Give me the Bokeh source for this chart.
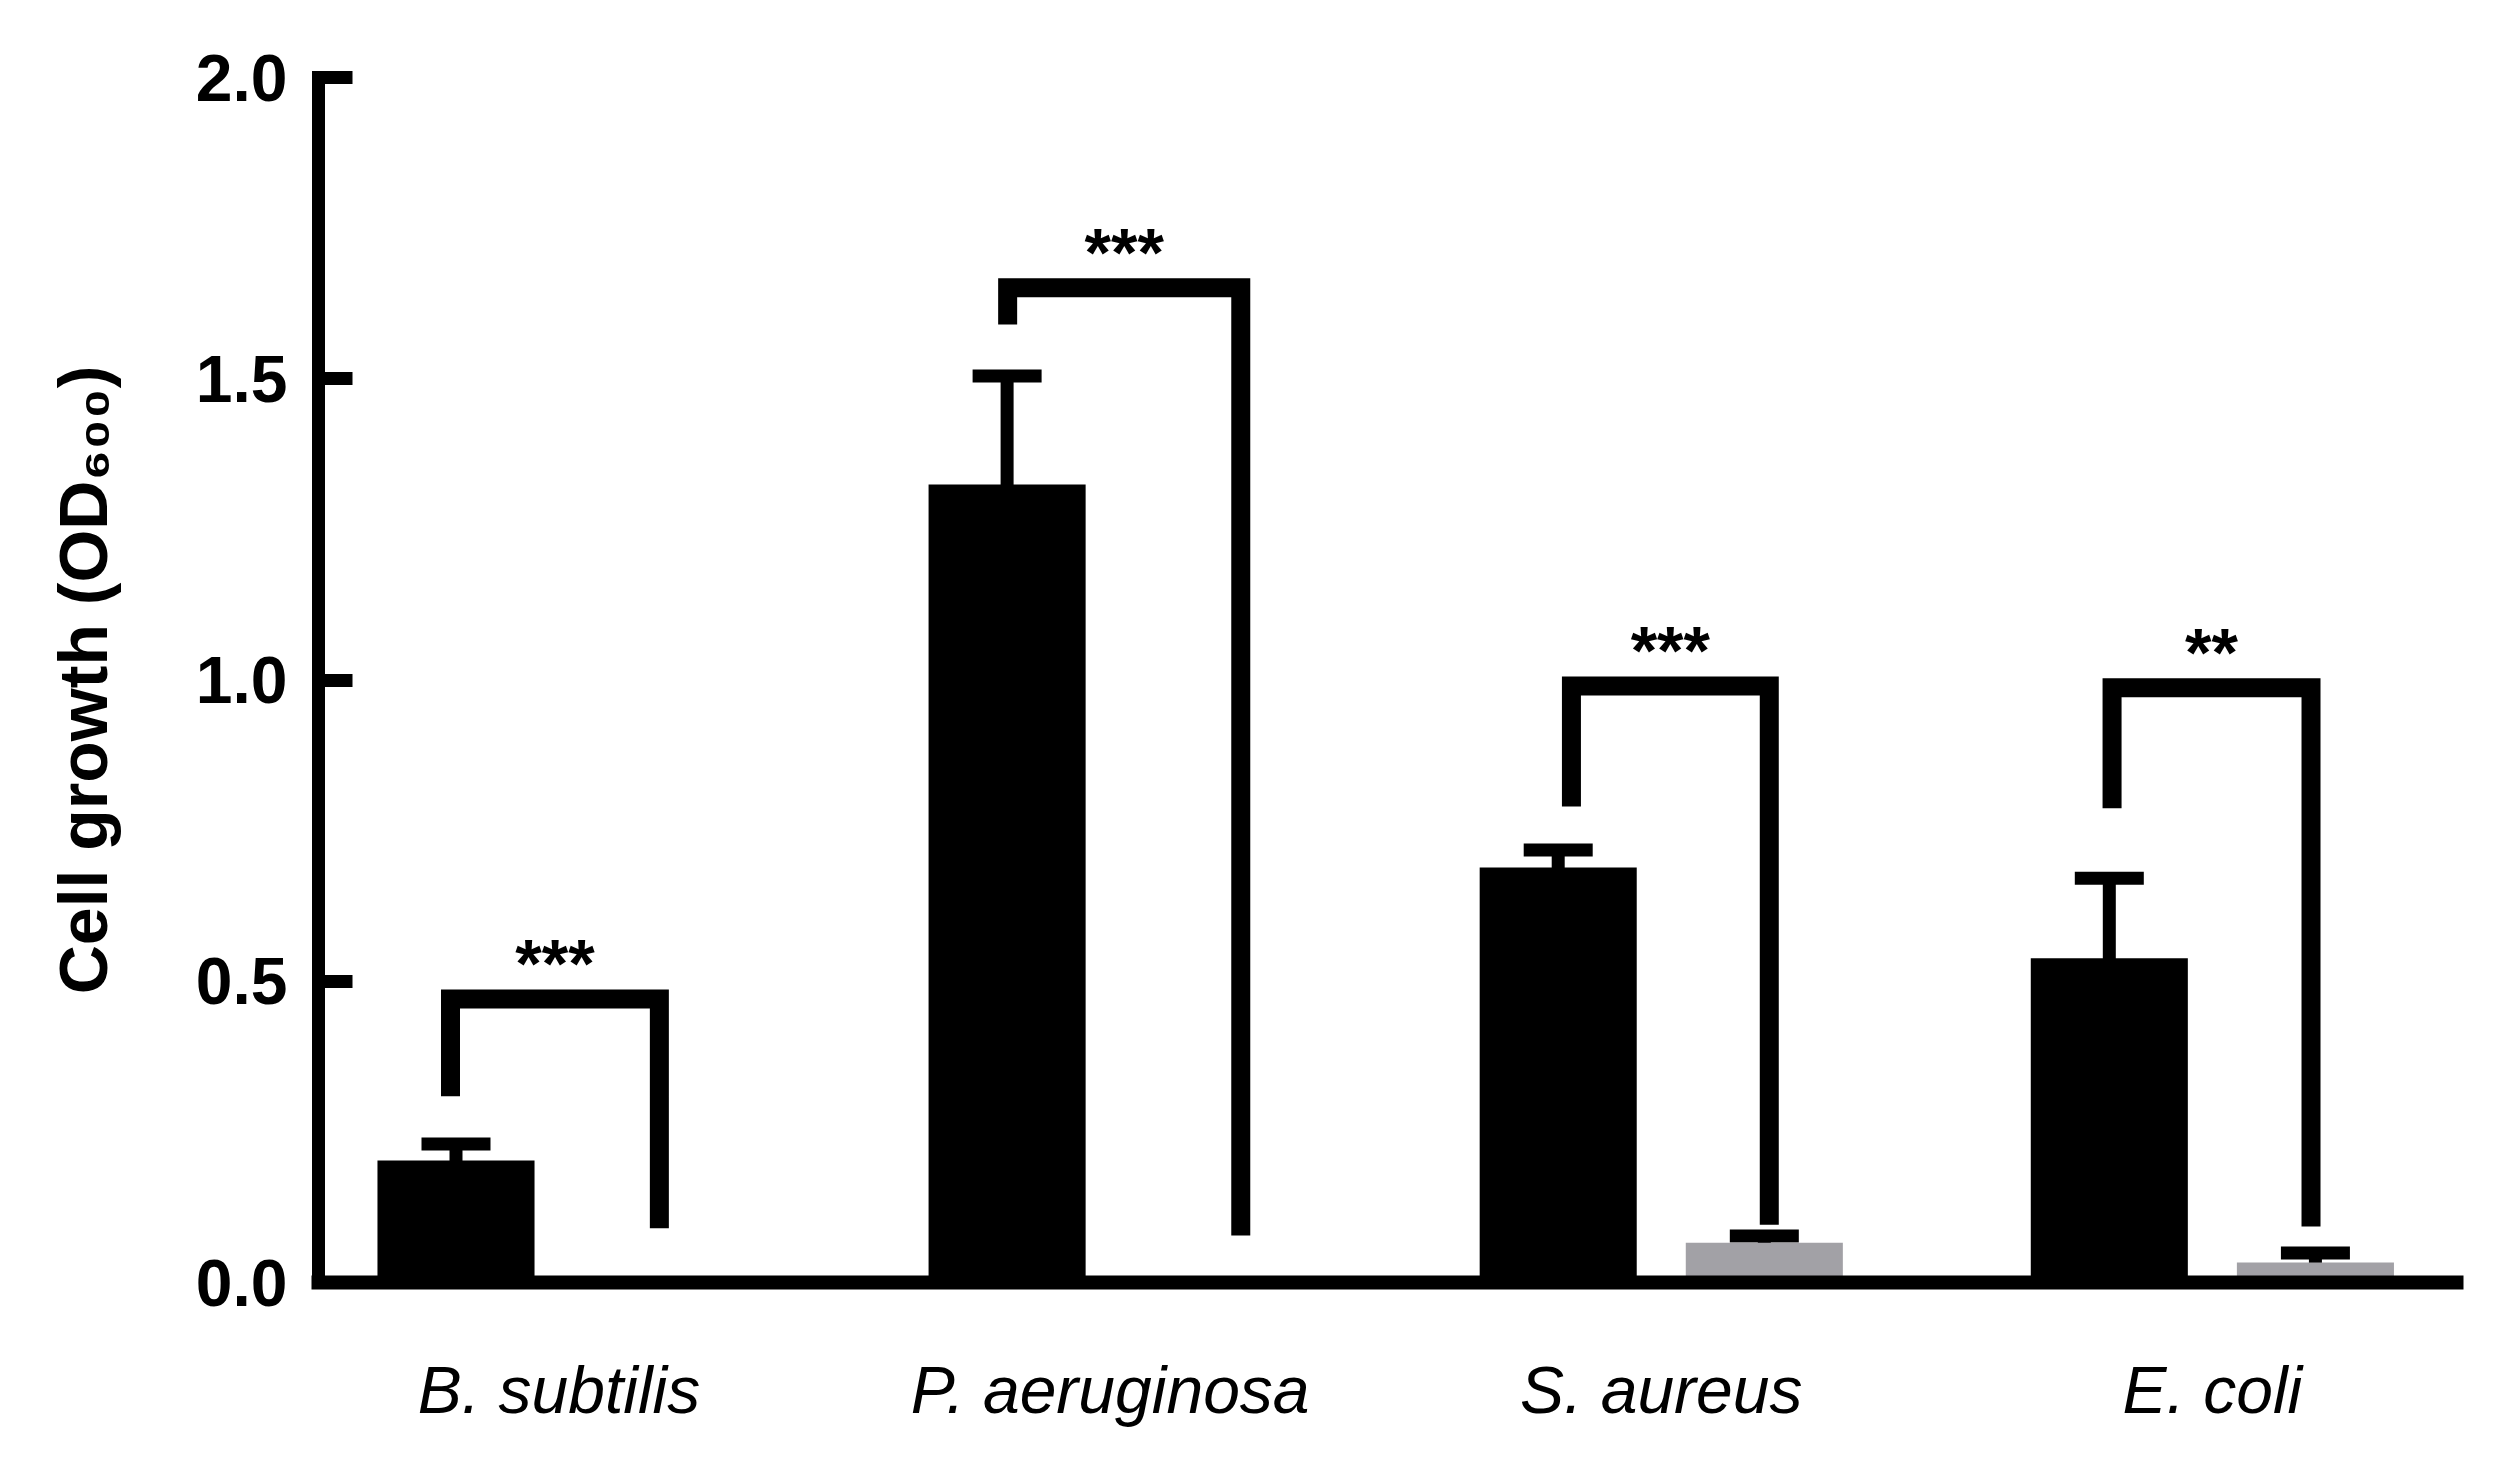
from bokeh.plotting import figure
from bokeh.models import Range1d, FixedTicker, Whisker, TeeHead, ColumnDataSource
from bokeh.core.properties import value
from bokeh.embed import file_html
from bokeh.resources import INLINE

# ---------------- data ----------------
species = ["B. subtilis", "P. aeruginosa", "S. aureus", "E. coli"]
control_mean = [0.2025, 1.3245, 0.689, 0.538]
control_sd = [0.0275, 0.180, 0.029, 0.133]
treated_mean = [0.0, 0.0, 0.066, 0.033]
treated_sd = [0.0, 0.0, 0.011, 0.016]

y_ticks = [0.0, 0.5, 1.0, 1.5, 2.0]
y_tick_labels = ["0.0", "0.5", "1.0", "1.5", "2.0"]

# significance brackets (x in group units, y in OD600)
sig_labels = ["***", "***", "***", "**"]
bracket_x0 = [-0.197, 0.814, 1.837, 2.818]
bracket_x1 = [0.182, 1.237, 2.196, 3.179]
bracket_top = [0.4705, 1.651, 0.990, 0.987]
bracket_left_end = [0.309, 1.590, 0.790, 0.787]
bracket_right_end = [0.090, 0.078, 0.096, 0.093]

# ---------------- styles ----------------
FONT = "Liberation Sans"
BAR_W = 0.285
OFFSET = 0.187
GRAY = "#a2a1a6"

group_pos = list(range(len(species)))
x_ctrl = [g - OFFSET for g in group_pos]
x_trt = [g + OFFSET for g in group_pos]

p = figure(width=2510, height=1454, output_backend="svg", toolbar_location=None,
           x_range=Range1d(-0.4365, 3.443), y_range=Range1d(0, 2.0),
           min_border_left=318, min_border_right=54, min_border_top=77,
           min_border_bottom=172)
p.outline_line_color = None
p.xgrid.visible = False
p.ygrid.visible = False
p.background_fill_color = "white"
p.border_fill_color = "white"

p.vbar(x=x_ctrl, top=control_mean, width=BAR_W, fill_color="black", line_color=None)
p.vbar(x=x_trt, top=treated_mean, width=BAR_W, fill_color=GRAY, line_color=None)

# error bars
ex, eu, el = [], [], []
for xs, ms, sds in ((x_ctrl, control_mean, control_sd), (x_trt, treated_mean, treated_sd)):
    for xv, m, s in zip(xs, ms, sds):
        if m > 0:
            ex.append(xv)
            eu.append(m + s)
            el.append(m - s)
esrc = ColumnDataSource(dict(x=ex, upper=eu, lower=el))
p.add_layout(Whisker(base="x", upper="upper", lower="lower", source=esrc, dimension="height",
                     line_color="black", line_width=13,
                     upper_head=TeeHead(size=69, line_width=13, line_color="black"),
                     lower_head=None))

# brackets
bxs = [[a, a, b, b] for a, b in zip(bracket_x0, bracket_x1)]
bys = [[l, t, t, r] for l, t, r in zip(bracket_left_end, bracket_top, bracket_right_end)]
p.multi_line(bxs, bys, line_color="black", line_width=19, line_join="miter", line_cap="butt")

tsrc = ColumnDataSource(dict(x=[(a + b) / 2 for a, b in zip(bracket_x0, bracket_x1)],
                             y=bracket_top, text=sig_labels))
p.text(x="x", y="y", text="text", source=tsrc, text_align="center",
       text_baseline="alphabetic", text_font=value(FONT), text_font_size="68px",
       text_font_style="bold", text_color="black", y_offset=-36)

# axes
yax = p.yaxis[0]
yax.ticker = FixedTicker(ticks=y_ticks)
yax.major_label_overrides = {t: s for t, s in zip(y_ticks, y_tick_labels)}
yax.axis_line_width = 13
yax.axis_line_cap = "square"
yax.major_tick_line_width = 13
yax.major_tick_in = 34
yax.major_tick_out = 0
yax.minor_tick_line_color = None
yax.major_label_text_font = FONT
yax.major_label_text_font_size = "66px"
yax.major_label_text_font_style = "bold"
yax.major_label_text_color = "black"
yax.major_label_standoff = 31
yax.axis_label = "Cell growth (OD₆₀₀)"
yax.axis_label_text_font = FONT
yax.axis_label_text_font_size = "68px"
yax.axis_label_text_font_style = "bold"
yax.axis_label_text_color = "black"
yax.axis_label_standoff = 72

xax = p.xaxis[0]
xax.ticker = FixedTicker(ticks=group_pos)
xax.major_label_overrides = {g: s for g, s in zip(group_pos, species)}
xax.axis_line_width = 14
xax.axis_line_cap = "square"
xax.major_tick_line_color = None
xax.minor_tick_line_color = None
xax.major_label_text_font = FONT
xax.major_label_text_font_size = "66px"
xax.major_label_text_font_style = "italic"
xax.major_label_text_color = "black"
xax.major_label_standoff = 64

open("out.html", "w").write(file_html(p, INLINE))
